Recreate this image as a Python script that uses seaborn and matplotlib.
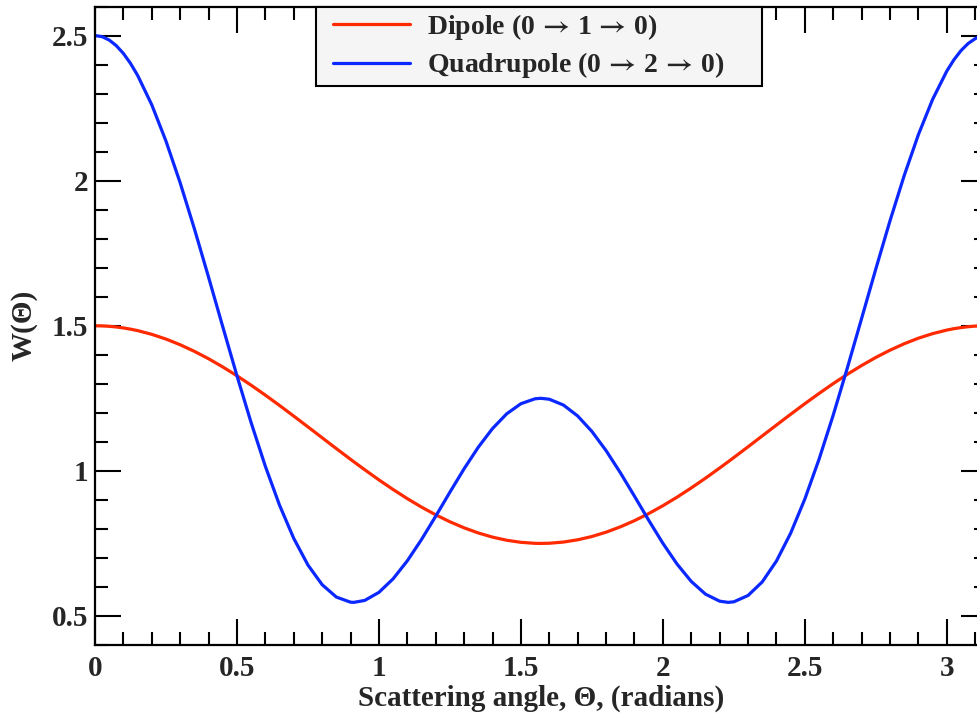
import matplotlib
matplotlib.use("Agg")
import matplotlib.pyplot as plt
import seaborn as sns
import pandas as pd
from matplotlib.ticker import MultipleLocator
from matplotlib.lines import Line2D
from matplotlib.legend_handler import HandlerLine2D

# Scattering angle (radians)
theta = [0.00, 0.025, 0.05, 0.075, 0.10, 0.125, 0.15, 0.20, 0.25, 0.30, 0.35, 0.40, 0.45,
         0.50, 0.55, 0.60, 0.65, 0.70, 0.75, 0.80, 0.85, 0.90, 0.9117, 0.95,
         1.00, 1.05, 1.10, 1.15, 1.20, 1.25, 1.30, 1.35, 1.40, 1.45,
         1.50, 1.55, 1.5708, 1.60, 1.65, 1.70, 1.75, 1.80, 1.85, 1.90, 1.95,
         2.00, 2.05, 2.10, 2.15, 2.20, 2.2299, 2.25, 2.30, 2.35, 2.40, 2.45,
         2.50, 2.55, 2.60, 2.65, 2.70, 2.75, 2.80, 2.85, 2.90, 2.95,
         3.00, 3.025, 3.05, 3.075, 3.10, 3.1166, 3.1416]

dipole = [1.5000, 1.4995, 1.4981, 1.4958, 1.4925, 1.4883, 1.4833, 1.4704, 1.4541, 1.4345, 1.4118, 1.3863, 1.3581,
          1.3276, 1.2951, 1.2609, 1.2253, 1.1887, 1.1515, 1.1141, 1.0767, 1.0398, 1.0313, 1.0038,
          0.9689, 0.9357, 0.9043, 0.8751, 0.8485, 0.8246, 0.8037, 0.7860, 0.7717, 0.7609,
          0.7538, 0.7503, 0.7500, 0.7506, 0.7547, 0.7625, 0.7738, 0.7887, 0.8070, 0.8284, 0.8528,
          0.8799, 0.9094, 0.9412, 0.9747, 1.0098, 1.0313, 1.0460, 1.0829, 1.1204, 1.1578, 1.1949,
          1.2314, 1.2667, 1.3007, 1.3329, 1.3630, 1.3908, 1.4158, 1.4380, 1.4571, 1.4728,
          1.4851, 1.4899, 1.4937, 1.4967, 1.4987, 1.4995, 1.5000]

quadrupole = [2.5000, 2.4961, 2.4844, 2.4651, 2.4382, 2.4041, 2.3629, 2.2611, 2.1362, 1.9923, 1.8343, 1.6672, 1.4965,
              1.3276, 1.1657, 1.0156, 0.8816, 0.7673, 0.6755, 0.6078, 0.5652, 0.5475, 0.5469, 0.5536,
              0.5814, 0.6281, 0.6901, 0.7635, 0.8438, 0.9266, 1.0073, 1.0816, 1.1458, 1.1966,
              1.2314, 1.2484, 1.2500, 1.2468, 1.2267, 1.1891, 1.1359, 1.0697, 0.9940, 0.9127, 0.8300,
              0.7505, 0.6788, 0.6190, 0.5753, 0.5510, 0.5469, 0.5488, 0.5706, 0.6174, 0.6893, 0.7851,
              0.9029, 1.0398, 1.1922, 1.3556, 1.5252, 1.6957, 1.8616, 2.0176, 2.1586, 2.2799,
              2.3775, 2.4163, 2.4481, 2.4724, 2.4892, 2.4961, 2.5000]

series_names = ["Dipole (0$\\,\\rightarrow\\,$1$\\,\\rightarrow\\,$0)",
                "Quadrupole (0$\\,\\rightarrow\\,$2$\\,\\rightarrow\\,$0)"]
series_colors = ["#ff2a00", "#0a28ff"]

df = pd.concat([
    pd.DataFrame({"theta": theta, "W": dipole, "series": series_names[0]}),
    pd.DataFrame({"theta": theta, "W": quadrupole, "series": series_names[1]}),
])

sns.set_theme(style="ticks")
plt.rcParams["font.family"] = ["Liberation Serif", "DejaVu Serif"]
plt.rcParams["font.weight"] = "bold"
plt.rcParams["mathtext.fontset"] = "stix"

fig = plt.figure(figsize=(9.78, 7.15), dpi=100)
ax = fig.add_axes([95 / 978, 70 / 715, 892 / 978, 638.5 / 715])

sns.lineplot(data=df, x="theta", y="W", hue="series", palette=series_colors,
             hue_order=series_names, linewidth=2.3, ax=ax, sort=False,
             estimator=None)
for ln in ax.lines:
    ln.set_solid_joinstyle("round")

ax.set_xlim(0, 3.1416)
ax.set_ylim(0.4, 2.6)
ax.xaxis.set_minor_locator(MultipleLocator(0.1))
ax.yaxis.set_minor_locator(MultipleLocator(0.1))
ax.set_xticks([0, 0.5, 1, 1.5, 2, 2.5, 3])
ax.set_xticklabels(["0", "0.5", "1", "1.5", "2", "2.5", "3"])
ax.set_yticks([0.5, 1, 1.5, 2, 2.5])
ax.set_yticklabels(["0.5", "1", "1.5", "2", "2.5"])

ax.tick_params(which="both", direction="in", top=True, right=True,
               width=1.5, color="black", labelsize=21)
ax.tick_params(which="major", length=18.7)
ax.tick_params(which="minor", length=9.4)
ax.tick_params(axis="x", which="major", pad=7)
ax.tick_params(axis="y", which="major", pad=5)
for lab in ax.get_xticklabels() + ax.get_yticklabels():
    lab.set_fontweight("bold")
for sp in ax.spines.values():
    sp.set_visible(True)
    sp.set_linewidth(1.6)
    sp.set_color("black")

ax.set_xlabel("Scattering angle, \u0398, (radians)", fontsize=21,
              fontweight="bold", labelpad=2)
ax.set_ylabel("W(\u0398)", fontsize=21, fontweight="bold", labelpad=10)

leg = ax.legend(loc="upper left", bbox_to_anchor=(0.2478, 0.0, (762 - 316) / 892, 1.0),
                mode="expand", borderaxespad=0, fontsize=20, frameon=True,
                fancybox=False, framealpha=1, facecolor="#f5f5f5",
                edgecolor="black", handlelength=3.17, handletextpad=0.61,
                borderpad=0.2, labelspacing=0.3, title=None,
                handler_map={Line2D: HandlerLine2D(xpad=0.4)})
leg.get_frame().set_linewidth(1.5)
for t in leg.get_texts():
    t.set_fontweight("bold")

fig.savefig("out.png", dpi=100)
